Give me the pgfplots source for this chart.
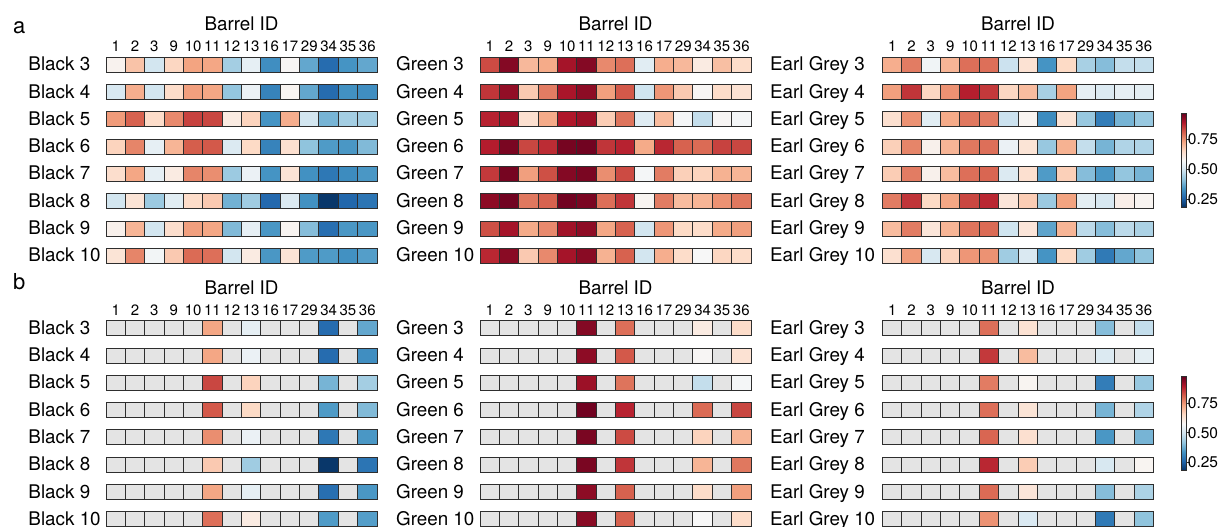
\documentclass[border=0pt]{standalone}
\usepackage{fontspec}
\setmainfont{TeX Gyre Heros}
\usepackage{pgfplots}
\usepackage{pgfplotstable}
\pgfplotsset{compat=1.18}

\definecolor{cellline}{HTML}{2E2E2E}
\definecolor{cellgrey}{HTML}{E4E4E4}

\newcommand{\tickfont}{\fontsize{15}{17}\selectfont}
\newcommand{\labelfont}{\fontsize{18.8}{22}\selectfont}
\newcommand{\panelfont}{\fontsize{22}{26}\selectfont}
\newcommand{\cbfont}{\fontsize{15.5}{18}\selectfont}

% one heatmap tile: 19.36 x 15
\pgfdeclareplotmark{cell}{%
  \pgfpathrectangle{\pgfqpoint{-9.68pt}{-7.5pt}}{\pgfqpoint{19.36pt}{15pt}}%
  \pgfusepathqfillstroke}

% columns: x = barrel position, key = barrels kept in panel b, s3..s10 = samples
\pgfplotstableread{
x key s3 s4 s5 s6 s7 s8 s9 s10
0  0 0.59  0.51  0.745 0.665 0.645 0.50  0.595 0.63
1  0 0.69  0.72  0.81  0.77  0.73  0.63  0.71  0.77
2  0 0.50  0.50  0.65  0.54  0.54  0.43  0.50  0.565
3  0 0.66  0.65  0.765 0.71  0.61  0.53  0.645 0.68
4  0 0.735 0.74  0.845 0.815 0.77  0.65  0.74  0.80
5  1 0.73  0.73  0.84  0.82  0.76  0.68  0.73  0.795
6  0 0.44  0.42  0.61  0.52  0.43  0.385 0.40  0.50
7  1 0.54  0.55  0.665 0.655 0.55  0.435 0.54  0.61
8  0 0.33  0.31  0.34  0.31  0.34  0.265 0.345 0.345
9  0 0.58  0.585 0.72  0.64  0.63  0.52  0.585 0.63
10 0 0.37  0.37  0.50  0.415 0.335 0.335 0.405 0.35
11 1 0.27  0.27  0.39  0.35  0.29  0.19  0.275 0.35
12 0 0.34  0.335 0.44  0.345 0.325 0.26  0.345 0.335
13 1 0.37  0.33  0.44  0.40  0.345 0.285 0.345 0.355
}\blacktab

\pgfplotstableread{
x key s3 s4 s5 s6 s7 s8 s9 s10
0  0 0.835 0.86  0.88  0.887 0.855 0.93  0.83  0.875
1  0 0.94  0.925 0.91  0.95  0.955 0.96  0.905 0.935
2  0 0.705 0.68  0.64  0.84  0.74  0.785 0.725 0.68
3  0 0.725 0.78  0.725 0.87  0.83  0.81  0.765 0.765
4  0 0.905 0.90  0.895 0.955 0.94  0.96  0.91  0.905
5  1 0.94  0.93  0.915 0.96  0.95  0.95  0.93  0.935
6  0 0.765 0.74  0.675 0.86  0.76  0.795 0.73  0.715
7  1 0.795 0.82  0.79  0.88  0.835 0.86  0.81  0.81
8  0 0.53  0.495 0.525 0.725 0.57  0.585 0.50  0.50
9  0 0.72  0.75  0.70  0.875 0.78  0.78  0.75  0.72
10 0 0.705 0.68  0.57  0.81  0.67  0.70  0.655 0.65
11 1 0.61  0.58  0.48  0.80  0.665 0.71  0.65  0.575
12 0 0.695 0.65  0.58  0.845 0.715 0.755 0.725 0.66
13 1 0.65  0.635 0.57  0.84  0.71  0.785 0.74  0.65
}\greentab

\pgfplotstableread{
x key s3 s4 s5 s6 s7 s8 s9 s10
0  0 0.72  0.74  0.64  0.67  0.675 0.78  0.70  0.64
1  0 0.78  0.86  0.755 0.77  0.78  0.86  0.78  0.745
2  0 0.56  0.66  0.53  0.595 0.595 0.655 0.625 0.51
3  0 0.71  0.755 0.725 0.71  0.70  0.73  0.71  0.665
4  0 0.795 0.885 0.785 0.785 0.795 0.84  0.79  0.75
5  1 0.795 0.855 0.78  0.795 0.805 0.875 0.80  0.755
6  0 0.49  0.66  0.49  0.55  0.52  0.625 0.495 0.435
7  1 0.635 0.70  0.585 0.63  0.64  0.675 0.625 0.515
8  0 0.34  0.445 0.325 0.425 0.35  0.43  0.365 0.34
9  0 0.655 0.735 0.63  0.715 0.67  0.735 0.71  0.655
10 0 0.445 0.54  0.425 0.48  0.405 0.535 0.47  0.435
11 1 0.405 0.52  0.30  0.39  0.345 0.51  0.405 0.295
12 0 0.48  0.54  0.39  0.455 0.42  0.60  0.47  0.37
13 1 0.48  0.535 0.425 0.455 0.39  0.585 0.45  0.415
}\earltab

\pgfplotsset{
  colormap={rdbur}{rgb255=(5,48,97) rgb255=(33,102,172) rgb255=(67,147,195)
    rgb255=(146,197,222) rgb255=(209,229,240) rgb255=(247,247,247)
    rgb255=(253,219,199) rgb255=(244,165,130) rgb255=(214,96,77)
    rgb255=(178,24,43) rgb255=(103,0,31)},
  colormap name=rdbur,
  heat/.style={
    scale only axis, width=271pt, height=218.3pt, anchor=north west,
    xmin=-0.5, xmax=13.5, ymin=2.5, ymax=10.5, y dir=reverse,
    point meta min=0.18, point meta max=0.97,
    axis line style={draw=none}, tick style={draw=none}, major tick length=0pt,
    xtick={0,...,13},
    xticklabels={1,2,3,9,10,11,12,13,16,17,29,34,35,36},
    xticklabel pos=right,
    xticklabel style={font=\tickfont, anchor=base, inner sep=0pt, yshift=-0.5pt},
    ytick=\empty,
    clip=false,
  },
  cellplot/.style={scatter, only marks, mark=cell, point meta=explicit,
    scatter/use mapped color={draw=cellline, fill=mapped color},
    mark options={line width=0.9pt}},
  greyplot/.style={only marks, mark=cell,
    mark options={fill=cellgrey, draw=cellline, line width=0.9pt}},
  cbar/.style={colorbar, colorbar style={
    at={(parent axis.north east)}, anchor=north west,
    xshift=19.8pt, yshift=-62.15pt,
    scale only axis, width=4.5pt, height=94pt, y dir=normal,
    ytick={0.25,0.5,0.75}, yticklabels={0.25,0.50,0.75},
    yticklabel style={font=\cbfont, anchor=west, inner sep=0pt, xshift=-2pt},
    ytick pos=right, yticklabel pos=right, tick align=outside,
    major tick length=3.4pt,
    axis line style={draw=cellline, line width=0.8pt},
    tick style={draw=cellline, line width=0.8pt}}},
}

% full rows of tiles (panel a)
\newcommand{\heatrows}[3]{%
  \node[anchor=base, inner sep=0pt, font=\labelfont, yshift=20.45pt]
    at (axis description cs:0.5,1) {Barrel ID};
  \pgfplotsinvokeforeach{3,...,10}{%
    \addplot[cellplot] table[x=x, y expr=##1, meta=s##1] {#1};
    \node[anchor=base west, inner sep=0pt, font=\labelfont, xshift=#3, yshift=-6pt]
      at (axis cs:-0.5,##1) {#2 ##1};
  }%
}
% rows with only the key barrels coloured (panel b)
\newcommand{\keyrows}[3]{%
  \node[anchor=base, inner sep=0pt, font=\labelfont, yshift=20.45pt]
    at (axis description cs:0.5,1) {Barrel ID};
  \pgfplotsinvokeforeach{3,...,10}{%
    \addplot[greyplot] table[x=x, y expr=##1] {#1};
    \addplot[cellplot, restrict expr to domain={\thisrow{key}}{0.5:1.5}]
      table[x=x, y expr=##1, meta=s##1] {#1};
    \node[anchor=base west, inner sep=0pt, font=\labelfont, xshift=#3, yshift=-6pt]
      at (axis cs:-0.5,##1) {#2 ##1};
  }%
}

\begin{document}
\begin{tikzpicture}
\useasboundingbox (0,0) rectangle (1218pt,527pt);
\node[anchor=base west, inner sep=0pt, font=\panelfont] at (13pt,493.7pt) {a};
\node[anchor=base west, inner sep=0pt, font=\panelfont] at (13pt,237pt) {b};

% panel a
\begin{axis}[heat, at={(106pt,475.85pt)}]
  \heatrows{\blacktab}{Black}{-77.7pt}
\end{axis}
\begin{axis}[heat, at={(480pt,475.85pt)}]
  \heatrows{\greentab}{Green}{-84pt}
\end{axis}
\begin{axis}[heat, cbar, at={(882.5pt,475.85pt)}]
  \heatrows{\earltab}{Earl Grey}{-112.5pt}
\end{axis}

% panel b
\begin{axis}[heat, at={(106pt,212.35pt)}]
  \keyrows{\blacktab}{Black}{-77.7pt}
\end{axis}
\begin{axis}[heat, at={(480pt,212.35pt)}]
  \keyrows{\greentab}{Green}{-84pt}
\end{axis}
\begin{axis}[heat, cbar, at={(882.5pt,212.35pt)}]
  \keyrows{\earltab}{Earl Grey}{-112.5pt}
\end{axis}
\end{tikzpicture}
\end{document}
